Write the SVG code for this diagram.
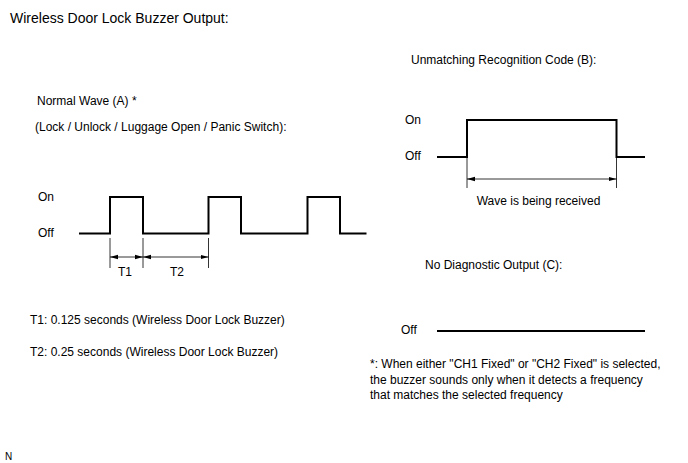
<svg xmlns="http://www.w3.org/2000/svg" width="688" height="463" viewBox="0 0 688 463">
<style>
text{font-family:"Liberation Sans",Arial,sans-serif;font-size:12px;fill:#000}
.title{font-size:14px}
.wave{fill:none;stroke:#000;stroke-width:2}
.dim{fill:none;stroke:#000;stroke-width:0.8}
</style>
<defs>
<marker id="ah" markerWidth="8" markerHeight="6" refX="8" refY="3" orient="auto-start-reverse" markerUnits="userSpaceOnUse">
<path d="M0,0.8 L8,3 L0,5.2 Z" fill="#000"/>
</marker>
</defs>
<rect width="688" height="463" fill="#fff"/>
<text class="title" x="10" y="23">Wireless Door Lock Buzzer Output:</text>
<g id="waveA">
<text x="37" y="105">Normal Wave (A) *</text>
<text x="35" y="131">(Lock / Unlock / Luggage Open / Panic Switch):</text>
<text x="38" y="201">On</text>
<text x="38" y="237">Off</text>
<path class="wave" d="M79,233.5 H110 V197 H143 V233.5 H208.5 V197 H241 V233.5 H307.5 V197 H340 V233.5 H366.5"/>
</g>
<g id="connectors">
<path class="dim" d="M110,238 V268 M143,238 V268 M208.5,238 V268"/>
<line class="dim" x1="110" y1="257" x2="143" y2="257" marker-start="url(#ah)" marker-end="url(#ah)"/>
<line class="dim" x1="143" y1="257" x2="208.5" y2="257" marker-start="url(#ah)" marker-end="url(#ah)"/>
<path class="dim" d="M467,158 V188 M616.5,158 V188"/>
<line class="dim" x1="467" y1="179" x2="616.5" y2="179" marker-start="url(#ah)" marker-end="url(#ah)"/>
</g>
<g id="T1label"><text x="118" y="276">T1</text></g>
<g id="T2label"><text x="170" y="276">T2</text></g>
<text x="30" y="324">T1: 0.125 seconds (Wireless Door Lock Buzzer)</text>
<text x="30" y="356">T2: 0.25 seconds (Wireless Door Lock Buzzer)</text>
<g id="waveB">
<text x="411" y="64">Unmatching Recognition Code (B):</text>
<text x="405" y="124">On</text>
<text x="405" y="160">Off</text>
<path class="wave" d="M437,157 H467 V120 H616.5 V157 H645"/>
<text x="538.5" y="205" text-anchor="middle">Wave is being received</text>
</g>
<g id="waveC">
<text x="425" y="269">No Diagnostic Output (C):</text>
<text x="401" y="334">Off</text>
<path class="wave" d="M437,331 H645"/>
</g>
<g id="note">
<text x="370" y="368">*: When either "CH1 Fixed" or "CH2 Fixed" is selected,</text>
<text x="370" y="384">the buzzer sounds only when it detects a frequency</text>
<text x="370" y="399">that matches the selected frequency</text>
</g>
<text x="5" y="460" style="font-size:10px">N</text>
</svg>
